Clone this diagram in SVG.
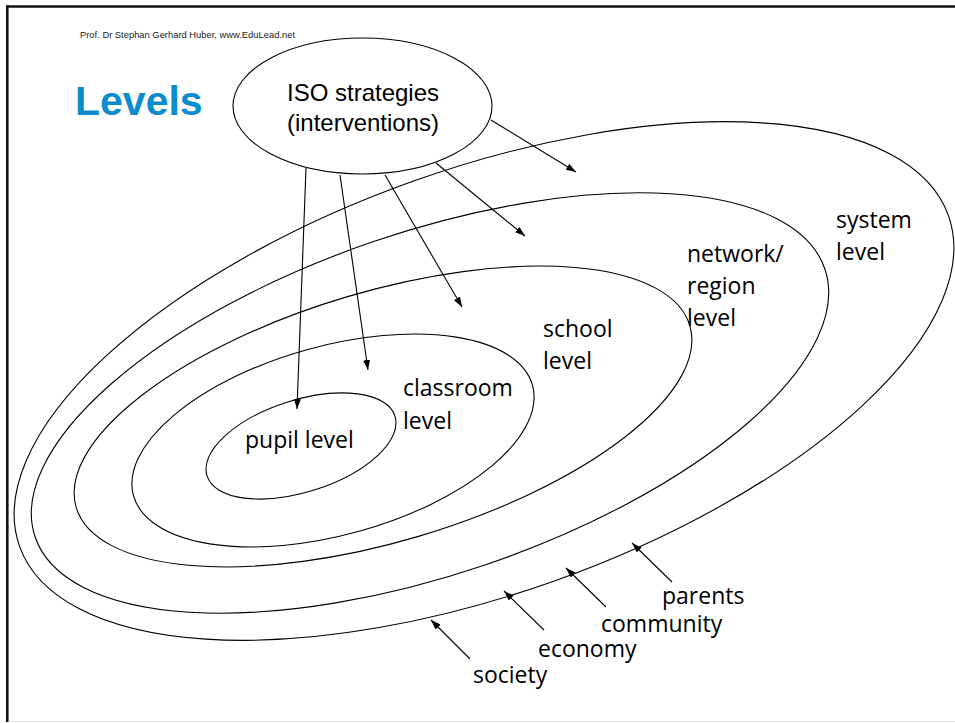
<svg xmlns="http://www.w3.org/2000/svg" width="955" height="723" viewBox="0 0 955 723">
<style>
.lvl{fill:none;stroke:#000;stroke-width:1.1}
.lbl{font-family:"Open Sans","Liberation Sans",sans-serif;font-size:23px;fill:#000}
.iso{font-family:"Liberation Sans",Arial,sans-serif;font-size:24px;fill:#000}
.arr{stroke:#000;stroke-width:1.1;fill:none;marker-end:url(#ah)}
</style>
<defs>
<marker id="ah" viewBox="0 0 10 7" refX="10" refY="3.5" markerWidth="10" markerHeight="7" markerUnits="userSpaceOnUse" orient="auto">
<path d="M0,0 L10,3.5 L0,7 z" fill="#000"/>
</marker>
</defs>
<rect width="955" height="723" fill="#fff"/>
<g id="frame">
<line x1="7.3" y1="6.5" x2="955" y2="6.5" stroke="#111" stroke-width="2.6"/>
<line x1="7.3" y1="5.2" x2="7.3" y2="722" stroke="#111" stroke-width="2.6"/>
<line x1="8.6" y1="721.5" x2="955" y2="721.5" stroke="#e6e6e6" stroke-width="1.2"/>
</g>
<g id="header">
<text x="80" y="38" font-family="Liberation Sans, Arial, sans-serif" font-size="9.5" textLength="215" lengthAdjust="spacingAndGlyphs" fill="#222">Prof. Dr Stephan Gerhard Huber, www.EduLead.net</text>
<text x="75" y="115" font-family="Liberation Sans, Arial, sans-serif" font-size="41" font-weight="bold" fill="#0a8ccf">Levels</text>
</g>
<g id="system-level">
<ellipse class="lvl" cx="484" cy="381" rx="493" ry="212" transform="rotate(-19.6 484 381)"/>
<text class="lbl" x="836" y="228">system</text>
<text class="lbl" x="836" y="260">level</text>
</g>
<g id="network-level">
<ellipse class="lvl" cx="430" cy="403" rx="417" ry="171" transform="rotate(-18.75 430 403)"/>
<text class="lbl" x="687" y="262">network/</text>
<text class="lbl" x="687" y="294">region</text>
<text class="lbl" x="687" y="326">level</text>
</g>
<g id="school-level">
<ellipse class="lvl" cx="383" cy="416.5" rx="320" ry="125" transform="rotate(-16.5 383 416.5)"/>
<text class="lbl" x="543" y="337">school</text>
<text class="lbl" x="543" y="369">level</text>
</g>
<g id="classroom-level">
<ellipse class="lvl" cx="333" cy="440.5" rx="207" ry="94.5" transform="rotate(-15.45 333 440.5)"/>
<text class="lbl" x="403" y="396">classroom</text>
<text class="lbl" x="403" y="429">level</text>
</g>
<g id="pupil-level">
<ellipse class="lvl" cx="301" cy="446" rx="98.6" ry="46" transform="rotate(-17.65 301 446)"/>
<text class="lbl" x="245" y="448">pupil level</text>
</g>
<g id="iso-strategies">
<ellipse class="lvl" cx="362.5" cy="106" rx="129.5" ry="68"/>
<text class="iso" x="363" y="100.5" text-anchor="middle">ISO strategies</text>
<text class="iso" x="363" y="131" text-anchor="middle">(interventions)</text>
</g>
<g id="society"><text class="lbl" x="473" y="683">society</text></g>
<g id="economy"><text class="lbl" x="538" y="657">economy</text></g>
<g id="community"><text class="lbl" x="601" y="632">community</text></g>
<g id="parents"><text class="lbl" x="662" y="604">parents</text></g>
<g id="connectors">
<line class="arr" x1="306" y1="168" x2="297" y2="409"/>
<line class="arr" x1="340" y1="175" x2="368" y2="370"/>
<line class="arr" x1="385" y1="175" x2="462" y2="307"/>
<line class="arr" x1="436" y1="163" x2="525" y2="236"/>
<line class="arr" x1="491" y1="120" x2="576" y2="172"/>
<line class="arr" x1="672" y1="582" x2="632" y2="543"/>
<line class="arr" x1="606" y1="607" x2="566" y2="568"/>
<line class="arr" x1="544" y1="630" x2="504" y2="591"/>
<line class="arr" x1="470" y1="659" x2="431" y2="620"/>
</g>
</svg>
